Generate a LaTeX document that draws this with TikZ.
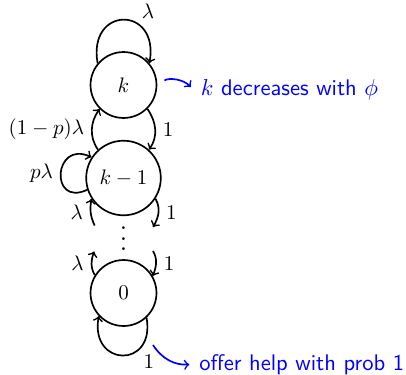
\documentclass[tikz,border=0pt]{standalone}
\definecolor{noteText}{HTML}{0000FF}

\begin{document}
\begin{tikzpicture}[
  x=0.476pt, y=-0.476pt,
  thick,
  state/.style={
    circle,
    draw,
    minimum size=31.4pt,
    inner sep=0pt
  },
  ghost/.style={
    circle,
    minimum size=29.5pt,
    inner sep=0pt,
    text height=11.3pt,
    text depth=0pt
  },
  note/.style={
    anchor=west,
    text=noteText,
    font=\sffamily\fontsize{10.75}{13}\selectfont
  },
  arrNote/.style={->, noteText},
  lbl/.style={inner sep=2pt}
]
  \useasboundingbox (0,0) rectangle (406,374);

  \node[state] (k) at (123.5,85) {$k$};
  \node[state, minimum size=35.5pt] (km1) at (123.5,178) {$k-1$};
  \node[ghost] (dots) at (123.5,239) {\scalebox{1.25}{$\vdots$}};
  \node[state] (zero) at (123.5,293) {$0$};
  \node[note] (decr) at (193,89.4) {$k$ decreases with $\phi$};
  \node[note] (help) at (191.5,364.4) {offer help with prob 1};
  \coordinate (helpFrom) at (153,345);

  % self loops
  \draw[->] (k.140) to[out=100, in=80, distance=28pt] node[pos=0.65, anchor=south west, lbl] {$\lambda$} (k.40);
  \draw[->] (km1.198) to[out=205, in=155, distance=20pt] node[left] {$p\lambda$} (km1.147);
  \draw[->] (zero.-47) to[out=-80, in=-100, distance=24.8pt] node[pos=0.3, below right, lbl] {$1$} (zero.223);

  % between the states
  \draw[->] (k.-45) to[out=-55, in=55] node[right] {$1$} (km1.48);
  \draw[->] (km1.132) to[out=125, in=235] node[left] {$(1-p)\lambda$} (k.225);
  \draw[->] (km1.-33) to[out=-60, in=60] node[right] {$1$} (dots.22);
  \draw[->] (dots.155) to[out=115, in=260] node[left] {$\lambda$} (km1.213);
  \draw[->] (dots.-22) to[out=-60, in=70] node[right] {$1$} (zero.30);
  \draw[->] (zero.148) to[out=120, in=250] node[left] {$\lambda$} (dots.203);

  \draw[arrNote, shorten <=4pt, shorten >=1.5pt] (k.east) to[bend left=40] (decr.west);
  \draw[arrNote, shorten >=1pt] (helpFrom) to[bend right=30] (help.west);
\end{tikzpicture}
\end{document}
